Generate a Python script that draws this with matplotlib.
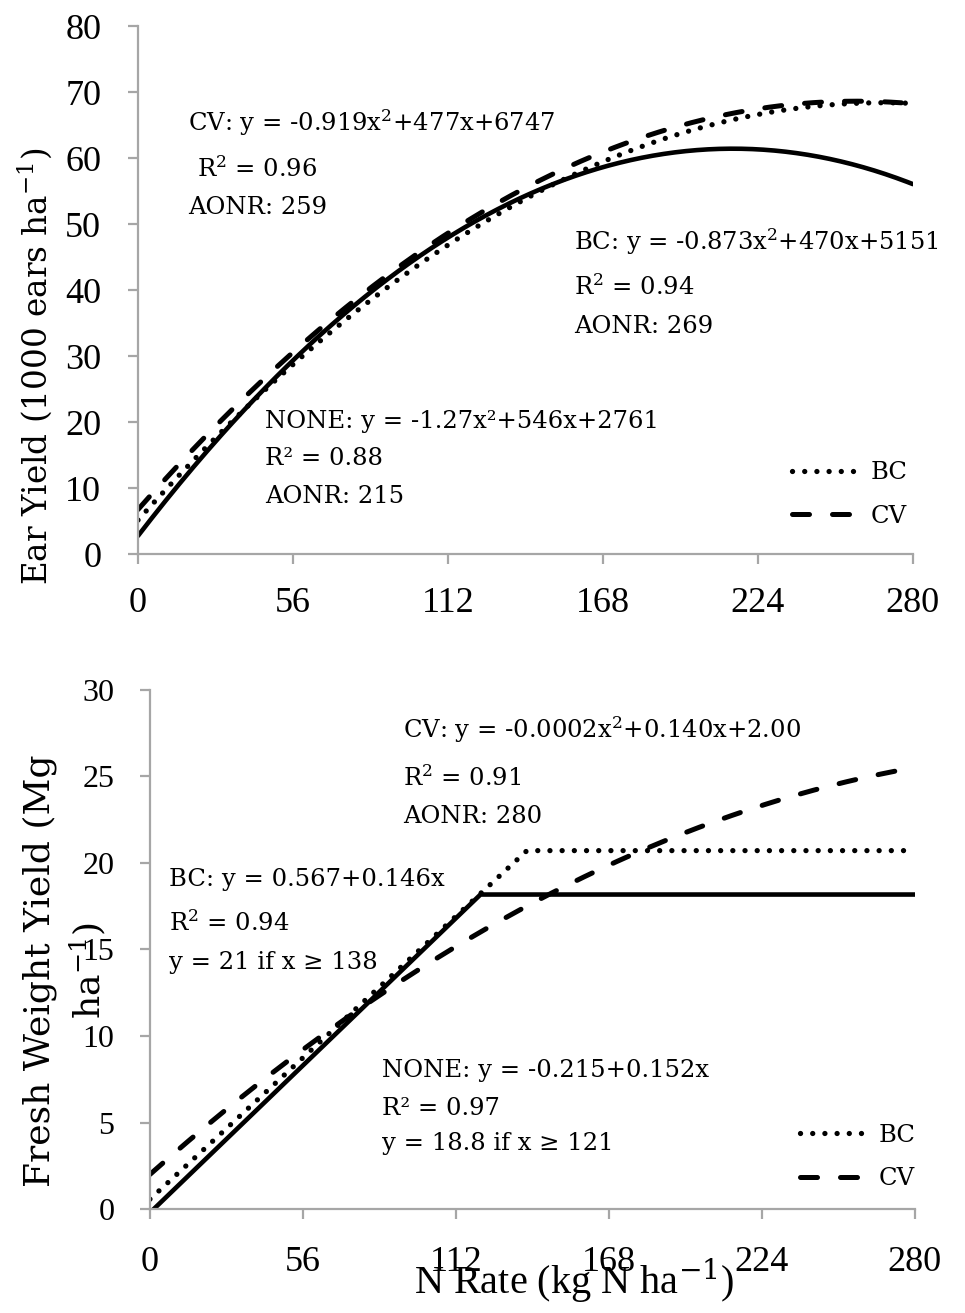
import numpy as np
import matplotlib.pyplot as plt
from matplotlib.lines import Line2D

plt.rcParams['font.family'] = ['Liberation Serif', 'DejaVu Serif']
plt.rcParams['mathtext.fontset'] = 'dejavuserif'

n_rate_ticks = [0, 56, 112, 168, 224, 280]
ear_ticks = [0, 10, 20, 30, 40, 50, 60, 70, 80]
fw_ticks = [0, 5, 10, 15, 20, 25, 30]

# ear yield quadratic fits, ears/ha (a, b, c)
ear_none = [-1.27, 546, 2761]
ear_bc = [-0.873, 470, 5151]
ear_cv = [-0.919, 477, 6747]

# fresh weight linear-plateau fits, Mg/ha (intercept, slope, join point)
fw_none = [-0.215, 0.152, 121]
fw_bc = [0.567, 0.146, 138]
# fresh weight quadratic fit for CV (a, b, c)
fw_cv = [-0.0002, 0.140, 2.00]

GREY = '#a6a6a6'
SERIF = ['DejaVu Serif']
solid = dict(color='black', lw=3.3, solid_capstyle='round')
dotted = dict(color='black', lw=3.8, linestyle=(0, (0.01, 2.3)), dash_capstyle='round')
dashed = dict(color='black', lw=3.6, linestyle=(0, (3.4, 4.6)), dash_capstyle='round')


def style_axes(ax, ylim, yticks, xpad, ypad, ysize):
    for s in ['top', 'right']:
        ax.spines[s].set_visible(False)
    for s in ['left', 'bottom']:
        ax.spines[s].set_color(GREY)
        ax.spines[s].set_linewidth(1.6)
    ax.set_xlim(0, 280)
    ax.set_ylim(*ylim)
    ax.set_xticks(n_rate_ticks)
    ax.set_yticks(yticks)
    ax.tick_params(axis='both', direction='out', length=7.5, width=1.6, color=GREY)
    ax.tick_params(axis='x', labelsize=26, pad=xpad)
    ax.tick_params(axis='y', labelsize=ysize, pad=ypad)


def add_legend(ax, x, y):
    handles = [Line2D([], [], **dotted), Line2D([], [], **dashed)]
    ax.legend(handles, ['BC', 'CV'], loc='center left', bbox_to_anchor=(x, y),
              frameon=False, prop={'family': SERIF, 'size': 17.5},
              handlelength=2.67, handletextpad=0.55, labelspacing=0.85,
              borderpad=0, borderaxespad=0)


def quad(coef, x):
    return np.polyval(coef, x)


def plateau(coef, x):
    b0, b1, join = coef
    return np.where(x < join, b0 + b1 * x, b0 + b1 * join)


x = np.linspace(0, 280, 281)
fig = plt.figure(figsize=(9.65, 13.13), dpi=100)

# ---- ear yield
ax1 = fig.add_axes([0.143, 0.578, 0.803, 0.402])
ax1.plot(x, quad(ear_none, x) / 1000, **solid)
ax1.plot(x, quad(ear_bc, x) / 1000, **dotted)
ax1.plot(x, quad(ear_cv, x) / 1000, **dashed)
style_axes(ax1, (0, 80), ear_ticks, 16, 19, 26)
ax1.set_ylabel('Ear Yield (1000 ears ha$^{-1}$)', fontsize=23.5, family=SERIF, va='center')
ax1.yaxis.set_label_coords(-0.133, 0.356)

t = dict(transform=ax1.transAxes, fontsize=17.5, family=SERIF, va='baseline', ha='left')
ax1.text(0.065, 0.801, 'CV: y = -0.919x$^2$+477x+6747', **t)
ax1.text(0.076, 0.714, 'R$^2$ = 0.96', **t)
ax1.text(0.065, 0.644, 'AONR: 259', **t)
ax1.text(0.563, 0.576, 'BC: y = -0.873x$^2$+470x+5151', **t)
ax1.text(0.563, 0.4905, 'R$^2$ = 0.94', **t)
ax1.text(0.563, 0.4186, 'AONR: 269', **t)
ax1.text(0.164, 0.2386, 'NONE: y = -1.27x²+546x+2761', **t)
ax1.text(0.164, 0.1686, 'R² = 0.88', **t)
ax1.text(0.164, 0.0966, 'AONR: 215', **t)
add_legend(ax1, 0.844, 0.113)

# ---- fresh weight yield
ax2 = fig.add_axes([0.1554, 0.0792, 0.7926, 0.3953])
ax2.plot(x, plateau(fw_none, x), **solid)
ax2.plot(x, plateau(fw_bc, x), **dotted)
ax2.plot(x, quad(fw_cv, x), **dashed)
style_axes(ax2, (0, 30), fw_ticks, 19, 18, 23)
ax2.set_ylabel('Fresh Weight Yield (Mg\nha$^{-1}$)', fontsize=26, family=SERIF,
               va='center', linespacing=1.3)
ax2.yaxis.set_label_coords(-0.111, 0.459)
ax2.set_xlabel('N Rate (kg N ha$^{-1}$)', fontsize=29, va='baseline')
ax2.xaxis.set_label_coords(0.554, -0.162)

t = dict(transform=ax2.transAxes, fontsize=17.5, family=SERIF, va='baseline', ha='left')
ax2.text(0.331, 0.9075, 'CV: y = -0.0002x$^2$+0.140x+2.00', **t)
ax2.text(0.331, 0.815, 'R$^2$ = 0.91', **t)
ax2.text(0.331, 0.744, 'AONR: 280', **t)
ax2.text(0.025, 0.622, 'BC: y = 0.567+0.146x', **t)
ax2.text(0.025, 0.5356, 'R$^2$ = 0.94', **t)
ax2.text(0.025, 0.4624, 'y = 21 if x ≥ 138', **t)
ax2.text(0.303, 0.254, 'NONE: y = -0.215+0.152x', **t)
ax2.text(0.303, 0.181, 'R² = 0.97', **t)
ax2.text(0.303, 0.1137, 'y = 18.8 if x ≥ 121', **t)
add_legend(ax2, 0.850, 0.100)

fig.savefig('out.png', dpi=100)
